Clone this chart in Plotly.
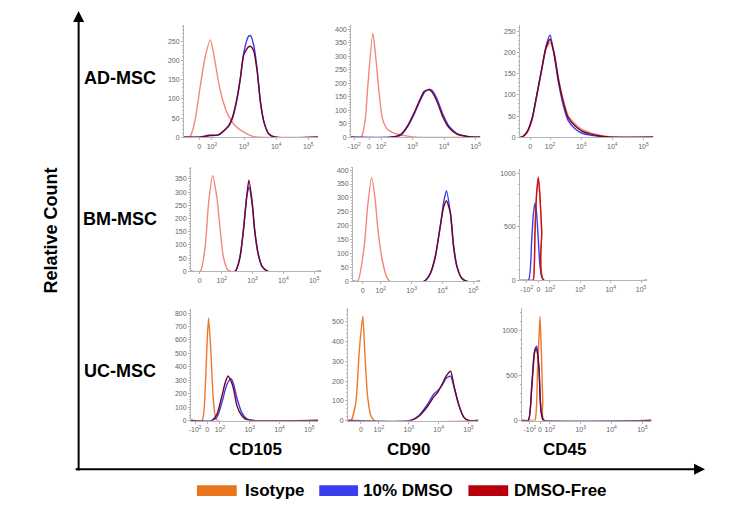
import plotly.graph_objects as go

# page body has an 8px default margin; the figure is shrunk/shifted to compensate
OFF = 8
W, H = 729 - 2 * OFF, 518 - 2 * OFF

# ---------------- data (display units: u = decade position; 10^2 -> 2, 10^3 -> 3 ...) --------------
# AD-MSC / CD105
ad105_iso_u = [1.13, 1.30, 1.375, 1.48, 1.635, 1.79, 1.95, 2.05, 2.21, 2.36, 2.52, 2.73, 2.94, 3.25, 3.46, 5.31]
ad105_iso_n = [0, 0, 12, 47, 133, 210, 254, 219, 142, 90, 55, 29, 16, 3, 0, 0]
ad105_pos_u = [1.13, 1.6, 1.9, 2.2, 2.52, 2.63, 2.78, 2.88, 2.99, 3.13, 3.2, 3.3, 3.41, 3.51, 3.62, 3.77, 3.98, 5.31]
ad105_blue = [0, 0, 5, 6, 29, 47, 98, 150, 220, 262, 265, 240, 176, 90, 38, 8, 0, 0]
ad105_red = [0, 0, 4, 6, 30, 50, 102, 152, 215, 235, 237, 225, 170, 92, 40, 9, 0, 0]

# AD-MSC / CD90
ad90_iso_u = [1.05, 1.37, 1.50, 1.58, 1.74, 1.84, 1.95, 2.05, 2.21, 2.53, 2.84, 3.1, 5.15]
ad90_iso_n = [0, 0, 66, 189, 385, 287, 152, 66, 29, 11, 4, 0, 0]
ad90_pos_u = [1.05, 2.3, 2.63, 2.84, 3.05, 3.21, 3.37, 3.53, 3.63, 3.79, 3.95, 4.15, 4.42, 4.73, 5.0, 5.15]
ad90_blue = [0, 0, 8, 38, 85, 128, 165, 178, 172, 138, 88, 42, 12, 3, 0, 0]
ad90_red = [0, 0, 11, 42, 91, 133, 170, 176, 165, 128, 78, 36, 11, 3, 0, 0]

# AD-MSC / CD45
ad45_u = [1.04, 1.1, 1.26, 1.42, 1.57, 1.73, 1.87, 2.0, 2.13, 2.27, 2.43, 2.58, 2.8, 3.01, 3.28, 3.6, 3.92, 5.32]
ad45_iso = [0, 0, 10, 40, 95, 158, 208, 224, 200, 140, 88, 52, 32, 19, 11, 5, 1, 0]
ad45_blue = [0, 0, 12, 43, 98, 160, 215, 242, 195, 130, 75, 40, 20, 10, 5, 2, 0, 0]
ad45_red = [0, 0, 12, 43, 98, 160, 212, 232, 200, 137, 82, 47, 27, 15, 8, 3, 0, 0]

# BM-MSC / CD105
bm105_iso_u = [1.0, 1.3, 1.46, 1.57, 1.7, 1.84, 1.95, 2.05, 2.19, 2.3, 5.23]
bm105_iso_n = [0, 0, 94, 256, 362, 281, 156, 56, 6, 0, 0]
bm105_pos_u = [1.0, 2.43, 2.59, 2.7, 2.81, 2.88, 2.99, 3.07, 3.18, 3.31, 3.5, 5.23]
bm105_blue = [0, 0, 56, 156, 281, 320, 250, 150, 66, 18, 0, 0]
bm105_red = [0, 0, 52, 150, 285, 345, 260, 156, 69, 19, 0, 0]

# BM-MSC / CD90
bm90_iso_u = [1.1, 1.25, 1.46, 1.57, 1.7, 1.81, 1.91, 2.05, 2.19, 2.3, 5.23]
bm90_iso_n = [0, 0, 123, 266, 374, 302, 183, 75, 16, 0, 0]
bm90_pos_u = [1.1, 3.4, 3.61, 3.77, 3.94, 4.04, 4.13, 4.26, 4.36, 4.47, 4.63, 4.8, 5.23]
bm90_blue = [0, 0, 28, 87, 207, 285, 326, 242, 123, 52, 10, 0, 0]
bm90_red = [0, 0, 30, 92, 205, 268, 290, 245, 130, 55, 11, 0, 0]

# BM-MSC / CD45
bm45_u = [1.02, 1.29, 1.4, 1.45, 1.51, 1.56, 1.62, 1.67, 1.73, 1.8, 5.2]
bm45_iso = [0, 0, 0, 0, 450, 790, 950, 790, 450, 0, 0]
bm45_blue = [0, 0, 373, 600, 725, 640, 373, 150, 36, 0, 0]
bm45_red = [0, 0, 0, 0, 466, 800, 965, 800, 466, 0, 0]

# UC-MSC / CD105
uc105_iso_u = [1.03, 1.4, 1.51, 1.57, 1.62, 1.7, 1.77, 1.84, 1.92, 5.3]
uc105_iso_n = [0, 0, 258, 579, 763, 505, 185, 37, 0, 0]
uc105_pos_u = [1.03, 1.73, 1.9, 2.07, 2.18, 2.27, 2.38, 2.46, 2.57, 2.73, 2.9, 3.1, 5.3]
uc105_blue = [0, 0, 25, 135, 230, 285, 312, 270, 170, 61, 12, 0, 0]
uc105_red = [0, 0, 46, 185, 283, 332, 290, 233, 111, 37, 6, 0, 0]

# UC-MSC / CD90
uc90_iso_u = [0.97, 1.07, 1.23, 1.34, 1.46, 1.53, 1.62, 1.73, 1.85, 5.33]
uc90_iso_n = [0, 0, 92, 344, 529, 344, 126, 25, 0, 0]
uc90_pos_u = [0.97, 3.07, 3.34, 3.62, 3.84, 3.96, 4.12, 4.25, 4.4, 4.53, 4.68, 4.84, 5.0, 5.33]
uc90_blue = [0, 0, 25, 80, 135, 150, 180, 215, 225, 160, 75, 17, 0, 0]
uc90_red = [0, 0, 22, 70, 120, 140, 185, 225, 250, 165, 78, 17, 0, 0]

# UC-MSC / CD45
uc45_u = [1.1, 1.3, 1.41, 1.48, 1.52, 1.57, 1.6, 1.65, 1.68, 1.71, 1.74, 1.77, 1.81, 5.29]
uc45_iso = [0, 0, 0, 0, 0, 180, 570, 950, 1155, 900, 570, 220, 0, 0]
uc45_blue = [0, 0, 386, 717, 800, 828, 760, 570, 300, 120, 60, 10, 0, 0]
uc45_red = [0, 0, 350, 680, 780, 795, 740, 560, 300, 110, 50, 10, 0, 0]

row_labels = ["AD-MSC", "BM-MSC", "UC-MSC"]
col_labels = ["CD105", "CD90", "CD45"]
legend_labels = ["Isotype", "10% DMSO", "DMSO-Free"]

# ---------------- styling / layout ----------------
ISO_LIGHT = "rgb(243,136,122)"
ISO_ORANGE = "rgb(240,118,40)"
BLUE = "rgb(60,60,235)"
DARKRED = "rgb(115,5,35)"
LEG_COLORS = ["rgb(232,116,30)", "rgb(60,60,240)", "rgb(185,0,10)"]


def fx(px):
    return (px - OFF) / W


def fy(py):
    return 1 - (py - OFF) / H


L2 = "10<sup>2</sup>"
L3 = "10<sup>3</sup>"
L4 = "10<sup>4</sup>"
L5 = "10<sup>5</sup>"
NEG = "-10<sup>2</sup>"

panels = [
    dict(xd=(182, 317), yd=(25, 138), xr=(1.13, 5.31), ymax=293,
         tv=[1.6, 2, 3, 4, 5], tt=["0", L2, L3, L4, L5], dt=50,
         curves=[(ad105_iso_u, ad105_iso_n, ISO_LIGHT), (ad105_pos_u, ad105_blue, BLUE), (ad105_pos_u, ad105_red, DARKRED)]),
    dict(xd=(350, 480), yd=(25, 138), xr=(1.05, 5.15), ymax=416,
         tv=[1.15, 1.62, 2, 3, 4, 5], tt=[NEG, "0", L2, L3, L4, L5], dt=50,
         curves=[(ad90_iso_u, ad90_iso_n, ISO_LIGHT), (ad90_pos_u, ad90_blue, BLUE), (ad90_pos_u, ad90_red, DARKRED)]),
    dict(xd=(520, 654), yd=(25, 138), xr=(1.04, 5.32), ymax=266,
         tv=[1.36, 2, 3, 4, 5], tt=["0", L2, L3, L4, L5], dt=50,
         curves=[(ad45_u, ad45_iso, ISO_LIGHT), (ad45_u, ad45_blue, BLUE), (ad45_u, ad45_red, DARKRED)]),
    dict(xd=(189, 320), yd=(168, 273), xr=(1.0, 5.23), ymax=395,
         tv=[1.28, 2, 3, 4, 5], tt=["0", L2, L3, L4, L5], dt=50,
         curves=[(bm105_iso_u, bm105_iso_n, ISO_LIGHT), (bm105_pos_u, bm105_blue, BLUE), (bm105_pos_u, bm105_red, DARKRED)]),
    dict(xd=(352, 480), yd=(168, 283), xr=(1.1, 5.23), ymax=411,
         tv=[1.41, 2, 3, 4, 5], tt=["0", L2, L3, L4, L5], dt=50,
         curves=[(bm90_iso_u, bm90_iso_n, ISO_LIGHT), (bm90_pos_u, bm90_blue, BLUE), (bm90_pos_u, bm90_red, DARKRED)]),
    dict(xd=(520, 648), yd=(170, 282), xr=(1.02, 5.21), ymax=1042,
         tv=[1.24, 1.62, 2, 3, 4, 5], tt=[NEG, "0", L2, L3, L4, L5], dt=500,
         curves=[(bm45_u, bm45_iso, ISO_LIGHT), (bm45_u, bm45_blue, BLUE), (bm45_u, bm45_red, "rgb(200,20,20)")]),
    dict(xd=(189, 317), yd=(311, 423), xr=(1.03, 5.3), ymax=829,
         tv=[1.17, 1.57, 2, 3, 4, 5], tt=[NEG, "0", L2, L3, L4, L5], dt=100,
         curves=[(uc105_iso_u, uc105_iso_n, ISO_ORANGE), (uc105_pos_u, uc105_blue, BLUE), (uc105_pos_u, uc105_red, DARKRED)]),
    dict(xd=(347, 478), yd=(310, 423), xr=(0.97, 5.33), ymax=570,
         tv=[1.4, 2, 3, 4, 5], tt=["0", L2, L3, L4, L5], dt=100,
         curves=[(uc90_iso_u, uc90_iso_n, ISO_ORANGE), (uc90_pos_u, uc90_blue, BLUE), (uc90_pos_u, uc90_red, DARKRED)]),
    dict(xd=(522, 652), yd=(310, 423), xr=(1.1, 5.29), ymax=1250,
         tv=[1.35, 1.68, 2, 3, 4, 5], tt=[NEG, "0", L2, L3, L4, L5], dt=500,
         curves=[(uc45_u, uc45_iso, ISO_ORANGE), (uc45_u, uc45_blue, BLUE), (uc45_u, uc45_red, DARKRED)]),
]

fig = go.Figure()
layout_axes = {}
AXC = "#b4b4b4"
TF = dict(family="Liberation Sans, Arial, sans-serif", size=7, color="#666666")

for i, p in enumerate(panels):
    n = i + 1
    xa = "x" if n == 1 else f"x{n}"
    ya = "y" if n == 1 else f"y{n}"
    xk = "xaxis" if n == 1 else f"xaxis{n}"
    yk = "yaxis" if n == 1 else f"yaxis{n}"
    for (u, c, col) in p["curves"]:
        fig.add_trace(go.Scatter(x=u, y=c, mode="lines", xaxis=xa, yaxis=ya,
                                 line=dict(color=col, width=1.4, shape="spline", smoothing=0.6),
                                 showlegend=False, hoverinfo="skip"))
    layout_axes[xk] = dict(domain=[fx(p["xd"][0]), fx(p["xd"][1])], range=list(p["xr"]),
                           anchor=ya, showgrid=False, zeroline=False, showline=True,
                           linecolor=AXC, linewidth=1, ticks="outside", ticklen=2, tickcolor=AXC,
                           tickvals=p["tv"], ticktext=p["tt"], tickfont=TF, tickangle=0,
                           fixedrange=True)
    layout_axes[yk] = dict(domain=[fy(p["yd"][1]), fy(p["yd"][0])], range=[0, p["ymax"]],
                           anchor=xa, showgrid=False, zeroline=False, showline=True,
                           linecolor=AXC, linewidth=1, ticks="outside", ticklen=2, tickcolor=AXC,
                           dtick=p["dt"], tick0=0, tickfont=TF, tickangle=0, fixedrange=True,
                           minor=dict(ticks="outside", ticklen=1, tickcolor=AXC, dtick=p["dt"] / 5))

annotations = []
FAM = "Liberation Sans, Arial, sans-serif"
BOLD = dict(family=FAM, size=18, color="black")

# frame arrows
annotations.append(dict(x=fx(76), y=fy(11), xref="paper", yref="paper", ax=0, ay=461,
                        showarrow=True, arrowhead=2, arrowsize=1.1, arrowwidth=2, arrowcolor="black",
                        text="", standoff=0))
annotations.append(dict(x=fx(706), y=fy(472), xref="paper", yref="paper", ax=-631, ay=0,
                        showarrow=True, arrowhead=2, arrowsize=1.1, arrowwidth=2, arrowcolor="black",
                        text="", standoff=0))

annotations.append(dict(x=fx(48), y=fy(232), xref="paper", yref="paper", text="<b>Relative Count</b>",
                        textangle=-90, showarrow=False, font=BOLD, xanchor="center", yanchor="middle"))

for lbl, py in zip(row_labels, [78, 220, 373]):
    annotations.append(dict(x=fx(118), y=fy(py), xref="paper", yref="paper", text=f"<b>{lbl}</b>",
                            showarrow=False, font=BOLD, xanchor="center", yanchor="middle"))

for lbl, px in zip(col_labels, [254, 408, 565]):
    annotations.append(dict(x=fx(px), y=fy(452), xref="paper", yref="paper", text=f"<b>{lbl}</b>",
                            showarrow=False, font=dict(family=FAM, size=17, color="black"),
                            xanchor="center", yanchor="middle"))

shapes = []
sw_x = [(195, 235), (318, 357), (468, 508)]
txt_x = [241, 360, 512]
for lbl, col, (x0, x1), tx in zip(legend_labels, LEG_COLORS, sw_x, txt_x):
    shapes.append(dict(type="rect", xref="paper", yref="paper", x0=fx(x0), x1=fx(x1),
                       y0=fy(499), y1=fy(488), fillcolor=col, line=dict(width=0)))
    annotations.append(dict(x=fx(tx), y=fy(493), xref="paper", yref="paper", text=f"<b>{lbl}</b>",
                            showarrow=False, font=dict(family=FAM, size=17, color="black"),
                            xanchor="left", yanchor="middle"))

fig.update_layout(width=W, height=H, margin=dict(l=0, r=0, t=0, b=0),
                  paper_bgcolor="white", plot_bgcolor="white",
                  annotations=annotations, shapes=shapes, showlegend=False, **layout_axes)

fig.write_html("out.html")
